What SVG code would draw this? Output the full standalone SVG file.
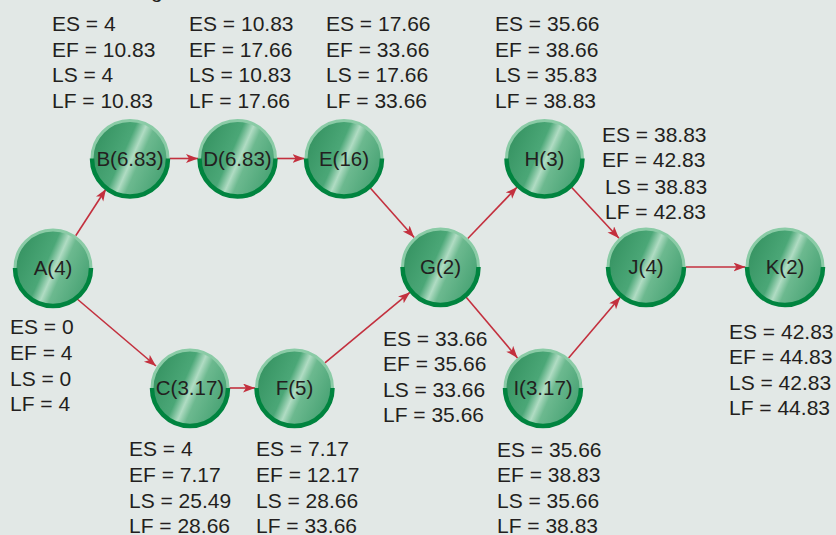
<svg xmlns="http://www.w3.org/2000/svg" width="836" height="535" viewBox="0 0 836 535">
<defs>
<linearGradient id="gf" x1="0" y1="0.28" x2="1" y2="0.72">
<stop offset="0" stop-color="#359261"/>
<stop offset="0.4" stop-color="#4ba777"/>
<stop offset="0.52" stop-color="#b0dcc3"/>
<stop offset="0.62" stop-color="#6cb98f"/>
<stop offset="1" stop-color="#44a071"/>
</linearGradient>
<marker id="ah" markerUnits="userSpaceOnUse" markerWidth="13" markerHeight="10" refX="12" refY="4.5" orient="auto">
<path d="M0,0 L12,4.5 L0,9 L3,4.5 z" fill="#c3303e"/>
</marker>
<g id="nodeShape">
<circle r="38" fill="url(#gf)" stroke="#8acba6" stroke-width="3"/>
<path d="M-38,0 A38,38 0 0 0 38,0" fill="none" stroke="#00843f" stroke-width="4.5"/>
</g>
</defs>
<style>
text{font-family:"Liberation Sans",Arial,sans-serif;fill:#231f20}
.lbl{font-size:21px}
.nd{font-size:20.5px;text-anchor:middle}
.edge{stroke:#c3303e;stroke-width:1.6;fill:none;marker-end:url(#ah)}
</style>
<rect width="836" height="535" fill="#e2e8e6"/>
<text class="lbl" x="151" y="-2">g</text>

<g id="connectors">
<line class="edge" x1="75.7" y1="235.7" x2="106" y2="189"/>
<line class="edge" x1="76" y1="298" x2="156" y2="366"/>
<line class="edge" x1="169.5" y1="158.5" x2="198" y2="158.5"/>
<line class="edge" x1="277" y1="158.5" x2="304.5" y2="158.5"/>
<line class="edge" x1="370.3" y1="188" x2="414.2" y2="237.5"/>
<line class="edge" x1="229.5" y1="388" x2="255" y2="388"/>
<line class="edge" x1="324.9" y1="362.8" x2="410.1" y2="292.2"/>
<line class="edge" x1="467.8" y1="238.5" x2="517.2" y2="187"/>
<line class="edge" x1="466" y1="297.1" x2="517.5" y2="357.9"/>
<line class="edge" x1="571.5" y1="187.3" x2="619" y2="238.2"/>
<line class="edge" x1="568.6" y1="357.9" x2="620.4" y2="297.1"/>
<line class="edge" x1="685.5" y1="267" x2="745.5" y2="267"/>
</g>

<g id="A"><use href="#nodeShape" x="53" y="268"/><text class="nd" x="53" y="275">A(4)</text>
<text class="lbl" x="10" y="334">ES = 0</text><text class="lbl" x="10" y="360">EF = 4</text><text class="lbl" x="10" y="386">LS = 0</text><text class="lbl" x="10" y="411">LF = 4</text></g>

<g id="B"><use href="#nodeShape" x="130" y="158.5"/><text class="nd" x="130" y="165.5">B(6.83)</text>
<text class="lbl" x="52" y="31">ES = 4</text><text class="lbl" x="52" y="56.5">EF = 10.83</text><text class="lbl" x="52" y="82">LS = 4</text><text class="lbl" x="52" y="107.5">LF = 10.83</text></g>

<g id="D"><use href="#nodeShape" x="237.5" y="158.5"/><text class="nd" x="237.5" y="165.5">D(6.83)</text>
<text class="lbl" x="189" y="31">ES = 10.83</text><text class="lbl" x="189" y="56.5">EF = 17.66</text><text class="lbl" x="189" y="82">LS = 10.83</text><text class="lbl" x="189" y="107.5">LF = 17.66</text></g>

<g id="E"><use href="#nodeShape" x="344" y="158.5"/><text class="nd" x="344" y="165.5">E(16)</text>
<text class="lbl" x="326" y="31">ES = 17.66</text><text class="lbl" x="326" y="56.5">EF = 33.66</text><text class="lbl" x="326" y="82">LS = 17.66</text><text class="lbl" x="326" y="107.5">LF = 33.66</text></g>

<g id="C"><use href="#nodeShape" x="190" y="388"/><text class="nd" x="190" y="395">C(3.17)</text>
<text class="lbl" x="129" y="456">ES = 4</text><text class="lbl" x="129" y="481.5">EF = 7.17</text><text class="lbl" x="129" y="507.5">LS = 25.49</text><text class="lbl" x="129" y="533">LF = 28.66</text></g>

<g id="F"><use href="#nodeShape" x="294.5" y="388"/><text class="nd" x="294.5" y="395">F(5)</text>
<text class="lbl" x="256" y="456">ES = 7.17</text><text class="lbl" x="256" y="481.5">EF = 12.17</text><text class="lbl" x="256" y="507.5">LS = 28.66</text><text class="lbl" x="256" y="533">LF = 33.66</text></g>

<g id="G"><use href="#nodeShape" x="440.5" y="267"/><text class="nd" x="440.5" y="274">G(2)</text>
<text class="lbl" x="383" y="346">ES = 33.66</text><text class="lbl" x="383" y="371">EF = 35.66</text><text class="lbl" x="383" y="396.5">LS = 33.66</text><text class="lbl" x="383" y="421.5">LF = 35.66</text></g>

<g id="H"><use href="#nodeShape" x="544.5" y="158.5"/><text class="nd" x="544.5" y="165.5">H(3)</text>
<text class="lbl" x="495" y="31">ES = 35.66</text><text class="lbl" x="495" y="56.5">EF = 38.66</text><text class="lbl" x="495" y="82">LS = 35.83</text><text class="lbl" x="495" y="107.5">LF = 38.83</text></g>

<g id="I"><use href="#nodeShape" x="543" y="388"/><text class="nd" x="543" y="395">I(3.17)</text>
<text class="lbl" x="497" y="456.5">ES = 35.66</text><text class="lbl" x="497" y="481.5">EF = 38.83</text><text class="lbl" x="497" y="508">LS = 35.66</text><text class="lbl" x="497" y="533">LF = 38.83</text></g>

<g id="J"><use href="#nodeShape" x="646" y="267"/><text class="nd" x="646" y="274">J(4)</text>
<text class="lbl" x="602" y="142">ES = 38.83</text><text class="lbl" x="602" y="167">EF = 42.83</text><text class="lbl" x="605" y="193.5">LS = 38.83</text><text class="lbl" x="605" y="219">LF = 42.83</text></g>

<g id="K"><use href="#nodeShape" x="785" y="267"/><text class="nd" x="785" y="274">K(2)</text>
<text class="lbl" x="729" y="339">ES = 42.83</text><text class="lbl" x="729" y="364">EF = 44.83</text><text class="lbl" x="729" y="390">LS = 42.83</text><text class="lbl" x="729" y="415">LF = 44.83</text></g>
</svg>
